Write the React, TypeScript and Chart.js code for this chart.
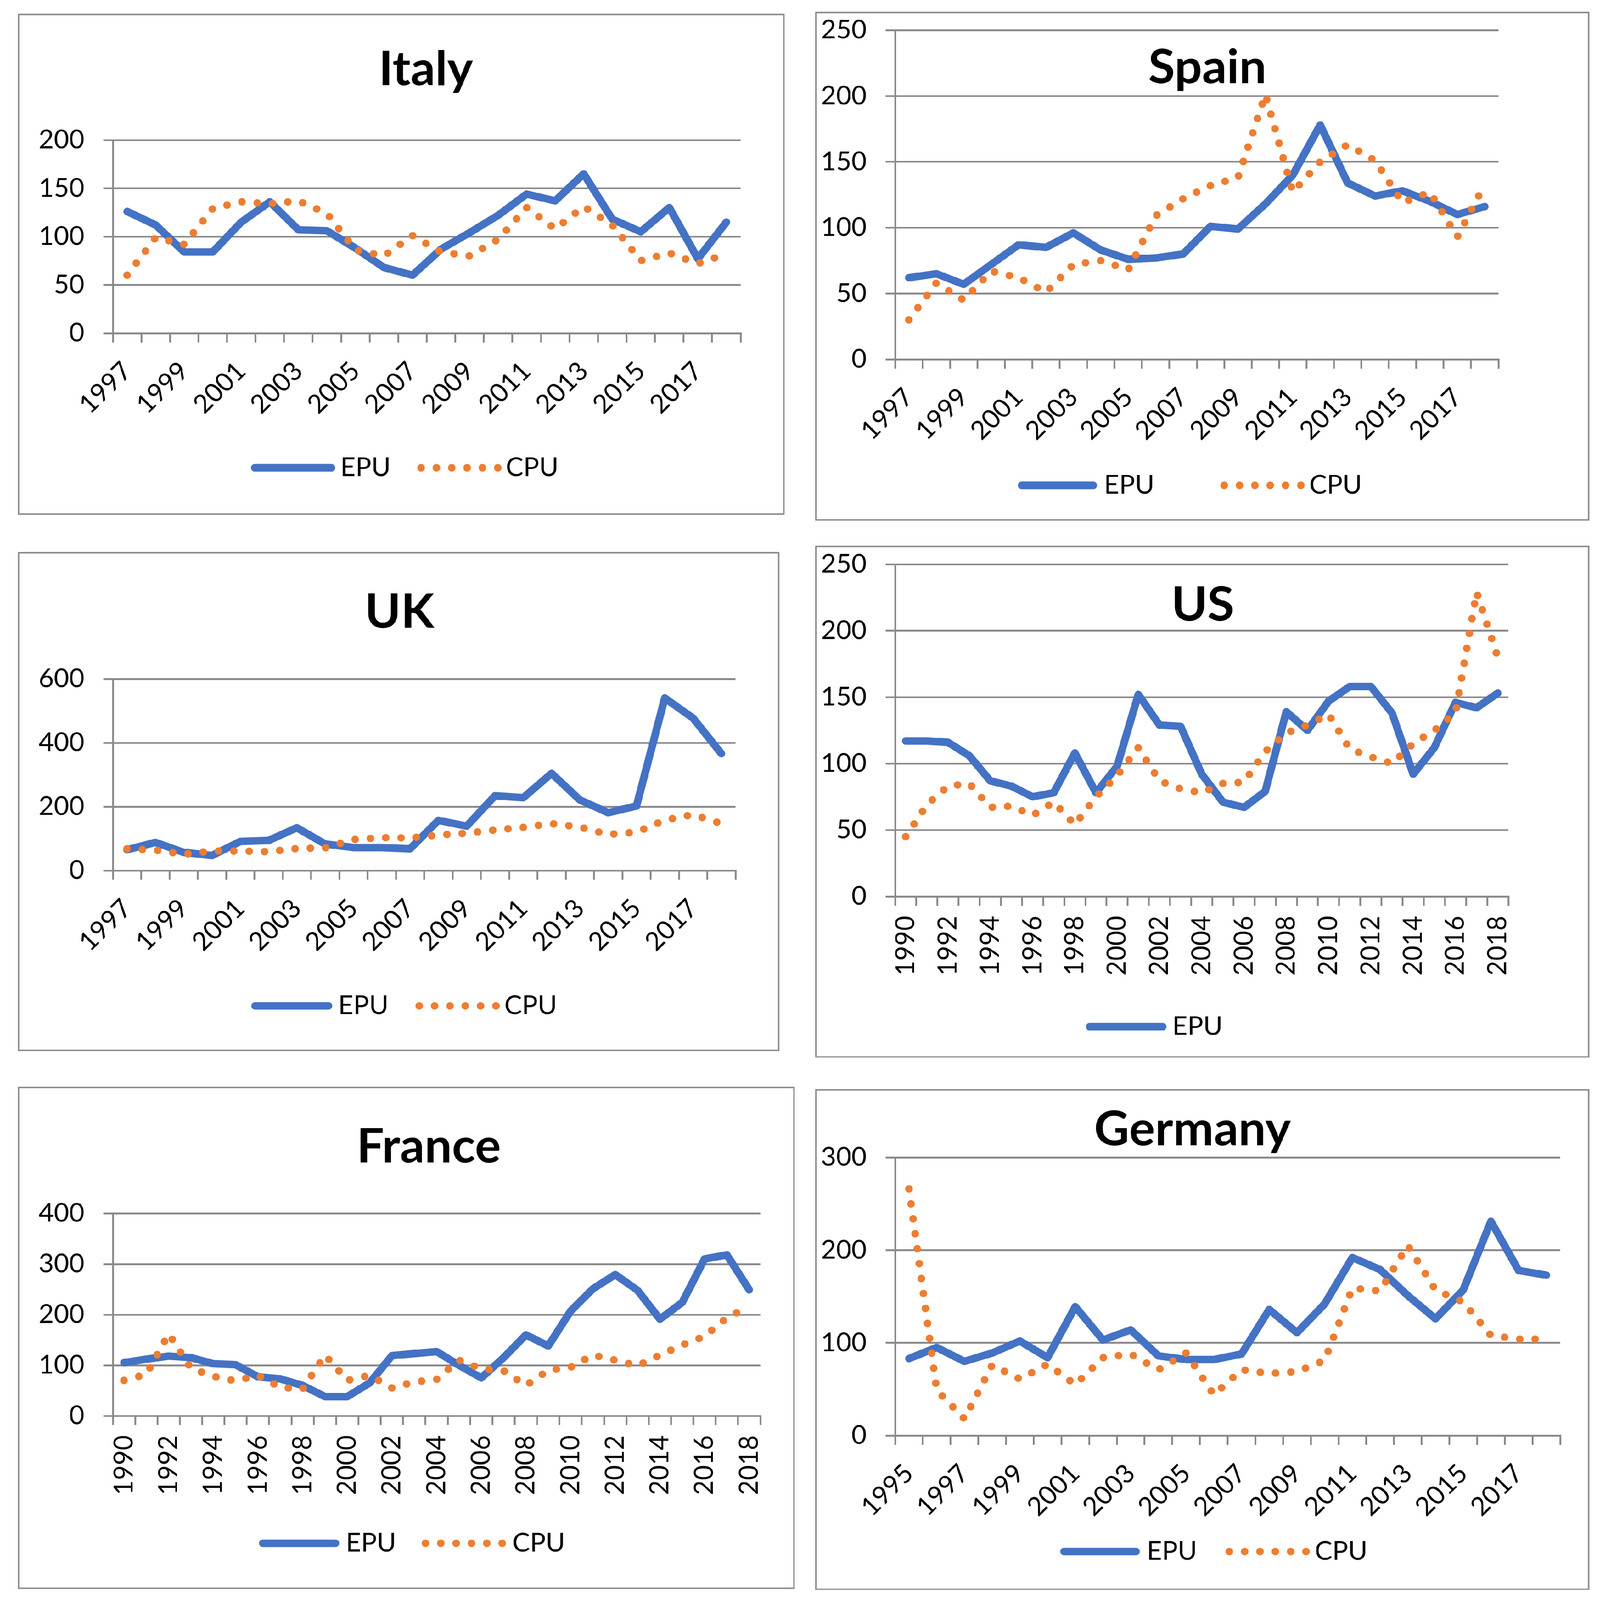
import React, { useEffect, useRef, useState } from 'react';
import { Chart, registerables } from 'chart.js';

Chart.register(...registerables);

// ---------------- data ----------------
const yearsItaly = ['1997','1998','1999','2000','2001','2002','2003','2004','2005','2006','2007','2008','2009','2010','2011','2012','2013','2014','2015','2016','2017','2018'];
const italyEPU = [126,112,84,84,115,136,107,106,88,68,60,87,104,122,144,137,165,118,105,130,77,115];
const italyCPU = [60,99,92,129,136,134,137,124,86,80,101,84,80,97,130,108,131,112,75,83,72,82];

const yearsSpain = ['1997','1998','1999','2000','2001','2002','2003','2004','2005','2006','2007','2008','2009','2010','2011','2012','2013','2014','2015','2016','2017','2018'];
const spainEPU = [62,65,57,72,87,85,96,83,76,77,80,101,99,118,140,178,134,124,128,120,110,116];
const spainCPU = [30,58,45,67,62,51,72,75,68,109,122,132,138,201,127,150,163,151,119,127,93,133];

const yearsUK = ['1997','1998','1999','2000','2001','2002','2003','2004','2005','2006','2007','2008','2009','2010','2011','2012','2013','2014','2015','2016','2017','2018'];
const ukEPU = [65,88,57,47,91,94,134,83,72,72,68,157,139,234,228,304,221,181,202,540,477,366];
const ukCPU = [68,64,51,61,61,59,69,71,97,103,102,111,117,127,135,147,136,113,120,158,175,147];

const yearsUS = ['1990','1991','1992','1993','1994','1995','1996','1997','1998','1999','2000','2001','2002','2003','2004','2005','2006','2007','2008','2009','2010','2011','2012','2013','2014','2015','2016','2017','2018'];
const usEPU = [117,117,116,106,87,83,75,78,108,78,98,152,129,128,92,71,67,79,139,125,147,158,158,138,92,112,146,142,153];
const usCPU = [45,69,83,85,67,68,61,71,54,75,91,112,87,81,78,85,86,109,123,129,137,111,105,100,115,125,138,229,180];

const yearsFrance = ['1990','1991','1992','1993','1994','1995','1996','1997','1998','1999','2000','2001','2002','2003','2004','2005','2006','2007','2008','2009','2010','2011','2012','2013','2014','2015','2016','2017','2018'];
const franceEPU = [105,112,118,115,103,101,77,73,60,38,38,65,119,123,127,100,75,115,160,138,207,251,279,248,191,224,310,318,249];
const franceCPU = [70,82,162,94,78,69,80,56,53,120,70,80,55,67,72,110,93,89,60,90,96,120,110,99,120,140,157,194,216];

const yearsGermany = ['1995','1996','1997','1998','1999','2000','2001','2002','2003','2004','2005','2006','2007','2008','2009','2010','2011','2012','2013','2014','2015','2016','2017','2018'];
const germanyEPU = [83,95,80,89,102,84,139,103,114,86,82,82,88,136,111,142,192,179,151,126,157,231,178,173];
const germanyCPU = [266,49,18,76,61,77,55,84,88,71,89,44,71,67,69,81,159,156,205,157,144,108,104,104];

// ---------------- styles / layout ----------------
const PAGE_W = 4381;
const PAGE_H = 4457;
const BLUE = '#4472C4';
const ORANGE = '#ED7D31';
const GRID = '#8A8A8A';
const FONT = 'Lato';
const TICK_SIZE = 72;
const LINE_W = 21;
const DOT_STEP = 42;

type Panel = {
  key: string;
  title: string;
  years: string[];
  epu: number[];
  cpu: number[];
  yMax: number;
  yStep: number;
  rot: number;
  box: [number, number, number, number]; // x, y, w, h
  plot: [number, number, number, number]; // left, top, right, bottom
  titlePos: [number, number]; // center x, baseline y
  legendY: number;
  legendEPU: [number, number, number]; // ink x1, ink x2, text x
  legendCPU: [number, number] | null; // first dot center, text x
};

const panels: Panel[] = [
  {
    key: 'italy', title: 'Italy', years: yearsItaly, epu: italyEPU, cpu: italyCPU,
    yMax: 200, yStep: 50, rot: 45,
    box: [49, 38, 2099, 1396], plot: [309, 390, 2028, 928],
    titlePos: [1166, 237], legendY: 1303,
    legendEPU: [687, 918, 937], legendCPU: [1153, 1390],
  },
  {
    key: 'spain', title: 'Spain', years: yearsSpain, epu: spainEPU, cpu: spainCPU,
    yMax: 250, yStep: 50, rot: 45,
    box: [2232, 33, 2120, 1417], plot: [2451, 84, 4103, 1001],
    titlePos: [3306, 232], legendY: 1352,
    legendEPU: [2787, 3004, 3028], legendCPU: [3352, 3590],
  },
  {
    key: 'uk', title: 'UK', years: yearsUK, epu: ukEPU, cpu: ukCPU,
    yMax: 600, yStep: 200, rot: 45,
    box: [49, 1538, 2085, 1390], plot: [309, 1891, 2014, 2425],
    titlePos: [1094, 1749], legendY: 2802,
    legendEPU: [688, 910, 931], legendCPU: [1148, 1386],
  },
  {
    key: 'us', title: 'US', years: yearsUS, epu: usEPU, cpu: usCPU,
    yMax: 250, yStep: 50, rot: 90,
    box: [2232, 1520, 2120, 1426], plot: [2451, 1572, 4130, 2497],
    titlePos: [3293, 1729], legendY: 2860,
    legendEPU: [2973, 3194, 3215], legendCPU: null,
  },
  {
    key: 'france', title: 'France', years: yearsFrance, epu: franceEPU, cpu: franceCPU,
    yMax: 400, yStep: 100, rot: 90,
    box: [49, 3027, 2127, 1399], plot: [309, 3380, 2082, 3944],
    titlePos: [1174, 3238], legendY: 4299,
    legendEPU: [709, 929, 952], legendCPU: [1165, 1408],
  },
  {
    key: 'germany', title: 'Germany', years: yearsGermany, epu: germanyEPU, cpu: germanyCPU,
    yMax: 300, yStep: 100, rot: 45,
    box: [2232, 3034, 2120, 1395], plot: [2451, 3224, 4272, 3999],
    titlePos: [3265, 3190], legendY: 4322,
    legendEPU: [2903, 3121, 3145], legendCPU: [3366, 3605],
  },
];

function decorPlugin(p: Panel) {
  return {
    id: 'decor_' + p.key,
    afterDraw(chart: any) {
      const ctx: CanvasRenderingContext2D = chart.ctx;
      const ox = p.box[0];
      const oy = p.box[1];
      ctx.save();
      // title
      ctx.fillStyle = '#000';
      ctx.font = `bold 133px ${FONT}`;
      ctx.textAlign = 'center';
      ctx.textBaseline = 'alphabetic';
      ctx.fillText(p.title, p.titlePos[0] - ox, p.titlePos[1] - oy);

      // legend
      const ly = p.legendY - oy;
      const ds = chart.data.datasets;
      ctx.font = `${TICK_SIZE}px ${FONT}`;
      ctx.textAlign = 'left';
      ctx.textBaseline = 'middle';
      const [e1, e2, et] = p.legendEPU;
      ctx.beginPath();
      ctx.lineWidth = LINE_W;
      ctx.lineCap = 'round';
      ctx.strokeStyle = ds[0].borderColor;
      ctx.setLineDash([]);
      ctx.moveTo(e1 + LINE_W / 2 - ox, ly);
      ctx.lineTo(e2 - LINE_W / 2 - ox, ly);
      ctx.stroke();
      ctx.fillStyle = '#000';
      ctx.fillText(ds[0].label, et - 5 - ox, ly);
      if (p.legendCPU) {
        const [c1, ct] = p.legendCPU;
        ctx.beginPath();
        ctx.strokeStyle = ds[1].borderColor;
        ctx.lineWidth = LINE_W;
        ctx.lineCap = 'round';
        ctx.setLineDash([0, DOT_STEP]);
        ctx.moveTo(c1 - ox, ly);
        ctx.lineTo(c1 + DOT_STEP * 5 + 1 - ox, ly);
        ctx.stroke();
        ctx.setLineDash([]);
        ctx.fillStyle = '#000';
        ctx.fillText(ds[1].label, ct - 5 - ox, ly);
      }
      ctx.restore();
    },
  };
}

function PanelChart({ p }: { p: Panel }) {
  const ref = useRef<HTMLCanvasElement>(null);
  const [bx, by, bw, bh] = p.box;
  const [pl, pt, pr, pb] = p.plot;

  useEffect(() => {
    if (!ref.current) return;
    const vertical = p.rot === 90;
    const chart = new Chart(ref.current, {
      type: 'line',
      data: {
        labels: p.years,
        datasets: [
          {
            label: 'EPU',
            data: p.epu,
            borderColor: BLUE,
            backgroundColor: BLUE,
            borderWidth: LINE_W,
            borderCapStyle: 'round',
            borderJoinStyle: 'round',
            pointRadius: 0,
            pointHoverRadius: 0,
            tension: 0,
            fill: false,
            order: 1,
          },
          {
            label: 'CPU',
            data: p.cpu,
            borderColor: ORANGE,
            backgroundColor: ORANGE,
            borderWidth: LINE_W,
            borderDash: [0, DOT_STEP],
            borderCapStyle: 'round',
            borderJoinStyle: 'round',
            pointRadius: 0,
            pointHoverRadius: 0,
            tension: 0,
            fill: false,
            order: 0,
          },
        ],
      },
      options: {
        responsive: false,
        maintainAspectRatio: false,
        animation: false,
        devicePixelRatio: 1,
        events: [],
        layout: { padding: { left: 0, top: pt - by, right: bx + bw - pr, bottom: 0 } },
        plugins: {
          legend: { display: false },
          title: { display: false },
          tooltip: { enabled: false },
        },
        scales: {
          x: {
            type: 'category',
            offset: true,
            grid: {
              offset: true,
              drawOnChartArea: false,
              drawTicks: true,
              tickLength: 26,
              color: GRID,
              lineWidth: 5,
            },
            border: { display: true, color: GRID, width: 5 },
            ticks: {
              autoSkip: false,
              minRotation: p.rot,
              maxRotation: p.rot,
              padding: vertical ? 28 : 37,
              labelOffset: 0,
              color: '#000',
              font: { family: FONT, size: TICK_SIZE },
              callback: (_v: any, i: number) => (i % 2 === 0 ? p.years[i] : ''),
            },
            afterFit: (s: any) => {
              s.height = by + bh - pb;
              s.paddingLeft = 0;
              s.paddingRight = 0;
            },
          },
          y: {
            min: 0,
            max: p.yMax,
            ticks: {
              stepSize: p.yStep,
              padding: 52,
              color: '#000',
              font: { family: FONT, size: TICK_SIZE },
            },
            grid: { color: GRID, lineWidth: 5, tickLength: 26, drawTicks: true },
            border: { display: true, color: GRID, width: 5 },
            afterFit: (s: any) => {
              s.width = pl - bx;
              s.paddingTop = 0;
              s.paddingBottom = 0;
            },
          },
        },
      } as any,
      plugins: [decorPlugin(p)],
    });
    return () => chart.destroy();
  }, [p]);

  return (
    <>
      <canvas
        ref={ref}
        width={bw}
        height={bh}
        style={{ position: 'absolute', left: bx, top: by, width: bw, height: bh }}
      />
      <div
        style={{
          position: 'absolute',
          left: bx,
          top: by,
          width: bw,
          height: bh,
          boxSizing: 'border-box',
          border: `4px solid ${GRID}`,
          pointerEvents: 'none',
        }}
      />
    </>
  );
}

function viewportScale() {
  const w = window.innerWidth || PAGE_W;
  const h = window.innerHeight || PAGE_H;
  return { sx: Math.min(1, w / PAGE_W), sy: Math.min(1, h / PAGE_H) };
}

export default function App() {
  const [sc, setSc] = useState(viewportScale);

  useEffect(() => {
    document.documentElement.style.overflow = 'hidden';
    document.body.style.overflow = 'hidden';
    const onResize = () => setSc(viewportScale());
    window.addEventListener('resize', onResize);
    return () => window.removeEventListener('resize', onResize);
  }, []);

  return (
    <div
      style={{
        position: 'absolute',
        left: 0,
        top: 0,
        width: PAGE_W,
        height: PAGE_H,
        background: '#ffffff',
        overflow: 'hidden',
        transformOrigin: '0 0',
        transform: `scale(${sc.sx}, ${sc.sy})`,
      }}
    >
      {panels.map((p) => (
        <PanelChart key={p.key} p={p} />
      ))}
    </div>
  );
}
